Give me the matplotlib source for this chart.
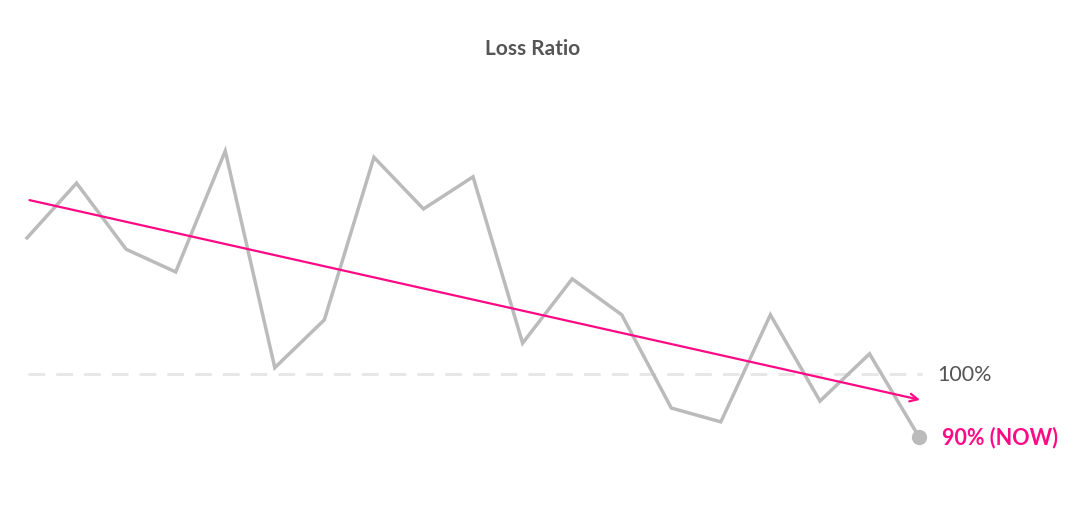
import matplotlib.pyplot as plt
import numpy as np

plt.rcParams['font.family'] = ['Lato', 'DejaVu Sans']

# loss ratio (%) per period
periods = np.arange(19)
loss_ratio = [121.6, 130.3, 119.8, 116.2, 135.4, 101.0, 108.6, 134.4, 126.2, 131.3,
              104.9, 115.1, 109.4, 94.6, 92.4, 109.4, 95.7, 103.2, 90.0]
trend_x = [0.05, 18.02]
trend_y = [127.6, 95.9]
reference = 100

gray = '#bbbbbb'
pink = '#ff0a84'

fig = plt.figure(figsize=(10.65, 5.1), dpi=100)
ax = fig.add_axes([0, 0, 1, 1])
ax.set_xlim(-27 / 49.56, (1065 - 27) / 49.56)
ax.set_ylim(100 - 135 / 6.3, 100 + 375 / 6.3)
ax.axis('off')

ax.plot([0.03, 18.05], [reference, reference], color='#e6e6e6', lw=2,
        dashes=(6, 4), zorder=1)
ax.plot(periods, loss_ratio, color=gray, lw=2.5, solid_joinstyle='miter', zorder=2)
ax.plot(periods[-1], loss_ratio[-1], 'o', color=gray, ms=10, zorder=3)

ax.annotate('', xy=(trend_x[1], trend_y[1]), xytext=(trend_x[0], trend_y[0]),
            arrowprops=dict(arrowstyle='->', color=pink, lw=1.6,
                            mutation_scale=14, shrinkA=0, shrinkB=0), zorder=4)

ax.text(18.36, reference, '100%', color='#555555', fontsize=15.5, va='center', ha='left')
ax.text(18.46, loss_ratio[-1], '90% (NOW)', color=pink, fontsize=15.5,
        fontweight='bold', va='center', ha='left')

fig.text(0.5, 1 - 49 / 510, 'Loss Ratio', color='#555555', fontsize=15,
         fontweight='bold', ha='center', va='center')

fig.savefig('out.png', dpi=100)
